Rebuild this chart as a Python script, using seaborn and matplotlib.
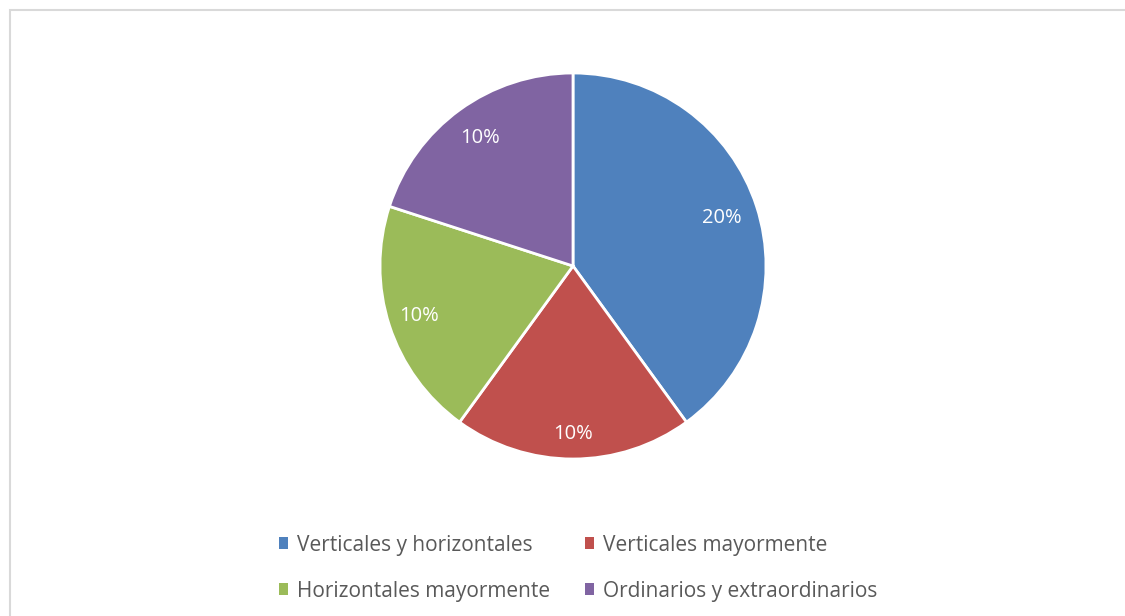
import matplotlib
matplotlib.use("Agg")
import matplotlib.pyplot as plt
import numpy as np
import seaborn as sns
from matplotlib.patches import Rectangle, Patch

categories = [
    "Verticales y horizontales",
    "Verticales mayormente",
    "Horizontales mayormente",
    "Ordinarios y extraordinarios",
]
values = [20, 10, 10, 10]
value_labels = ["20%", "10%", "10%", "10%"]
colors = ["#4F81BD", "#C0504D", "#9BBB59", "#8064A2"]

sns.set_theme(style="white")
plt.rcParams["font.family"] = ["Open Sans", "DejaVu Sans"]

fig = plt.figure(figsize=(11.25, 6.16), dpi=100)
W, H = 1125, 616

# pie centre and radius in pixels
cx, cy, r = 573, 266, 193
ax = fig.add_axes([(cx - r) / W, (H - cy - r) / H, 2 * r / W, 2 * r / H])

wedges, _ = ax.pie(
    values,
    colors=colors,
    startangle=90,
    counterclock=False,
    radius=1,
    wedgeprops=dict(edgecolor="white", linewidth=2),
)
ax.set_xlim(-1.0, 1.0)
ax.set_ylim(-1.0, 1.0)
ax.set_aspect("equal")
ax.axis("off")

# data labels, placed like Excel's best fit
label_r = [0.81, 0.87, 0.84, 0.82]
for w, txt, lr in zip(wedges, value_labels, label_r):
    ang = np.deg2rad((w.theta1 + w.theta2) / 2)
    ax.text(lr * np.cos(ang), lr * np.sin(ang), txt, color="white",
            fontsize=14.5, ha="center", va="center")

# legend, row-major order
order = [0, 2, 1, 3]
handles = [Patch(facecolor=colors[i], edgecolor="none") for i in order]
labels = [categories[i] for i in order]
fig.legend(
    handles, labels, ncol=2, loc="center",
    bbox_to_anchor=(578 / W, (H - 568) / H),
    frameon=False, fontsize=15, labelcolor="#595959",
    handlelength=0.45, handleheight=0.45, handletextpad=0.4,
    columnspacing=1.7, labelspacing=1.2,
)

# chart area border
fig.patches.append(Rectangle((10 / W, -0.1), 1.2, 1 - 10 / H + 0.1,
                             transform=fig.transFigure, fill=False,
                             edgecolor="#D9D9D9", linewidth=1.5))

fig.savefig("out.png", dpi=100, facecolor="white")
